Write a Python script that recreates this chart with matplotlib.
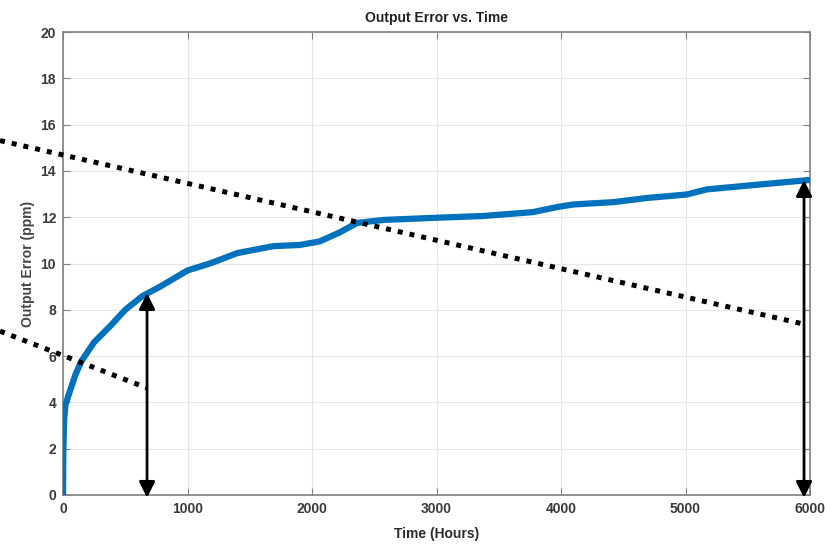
import numpy as np
import matplotlib.pyplot as plt

plt.rcParams['font.family'] = ['Liberation Sans', 'DejaVu Sans']

# output error curve
hours = [0, 3, 10, 20, 50, 100, 150, 250, 380, 500, 640, 780, 1000, 1180, 1400,
         1690, 1900, 2060, 2225, 2360, 2570, 2970, 3370, 3775, 3970,
         4100, 4420, 4690, 5010, 5170, 5570, 5980, 6000]
error_ppm = [0.0, 2.0, 3.3, 3.9, 4.4, 5.2, 5.8, 6.6, 7.3, 8.0, 8.6, 9.0, 9.7, 10.0,
             10.45, 10.75, 10.8, 10.95, 11.35, 11.75, 11.88, 11.97, 12.05, 12.22,
             12.44, 12.55, 12.65, 12.83, 12.98, 13.2, 13.4, 13.6, 13.6]

# dotted guide lines (start and end points, data units)
guide1_x = [-506, 5944]
guide1_y = [15.31, 7.39]
guide2_x = [-506, 675]
guide2_y = [7.08, 4.62]

# double arrows
arrow_x = [675, 5952]
arrow_top = [8.72, 13.6]
arrow_bottom = -0.12

fig = plt.figure(figsize=(8.27, 5.45), dpi=100)
ax = fig.add_axes([63 / 827, 1 - 495 / 545, 747 / 827, 463 / 545])

ax.plot(hours, error_ppm, color='#0072BD', lw=4.5, solid_joinstyle='round',
        solid_capstyle='round', zorder=3)

ax.set_xlim(0, 6000)
ax.set_ylim(0, 20)
ax.set_xticks(np.arange(0, 6001, 1000))
ax.set_yticks(np.arange(0, 21, 2))
ax.grid(True, color='#e6e6e6', lw=0.8)
ax.set_axisbelow(True)

for s in ax.spines.values():
    s.set_color('#808080')
    s.set_linewidth(1.2)
ax.tick_params(direction='in', length=5, width=0.8, color='#808080',
               top=True, right=True, labelsize=10, labelcolor='#3a3a3a', pad=5)
for lab in ax.get_xticklabels() + ax.get_yticklabels():
    lab.set_fontweight('bold')

ax.set_title('Output Error vs. Time', fontsize=10, fontweight='bold', color='#222222', pad=7)
ax.set_xlabel('Time (Hours)', fontsize=10, fontweight='bold', color='#2a2a2a', labelpad=8)
ax.set_ylabel('Output Error (ppm)', fontsize=10, fontweight='bold', color='#444444', labelpad=4)

for gx, gy in [(guide1_x, guide1_y), (guide2_x, guide2_y)]:
    ax.plot(gx, gy, color='black', lw=3.6, ls=(0, (1, 1.4)), dash_capstyle='butt',
            clip_on=False, zorder=4)

for x, top in zip(arrow_x, arrow_top):
    ax.annotate('', xy=(x, top), xytext=(x, arrow_bottom),
                arrowprops=dict(arrowstyle='<|-|>', color='black', lw=2,
                                mutation_scale=24, shrinkA=0, shrinkB=0),
                annotation_clip=False, zorder=5)

fig.savefig('out.png', dpi=100)
